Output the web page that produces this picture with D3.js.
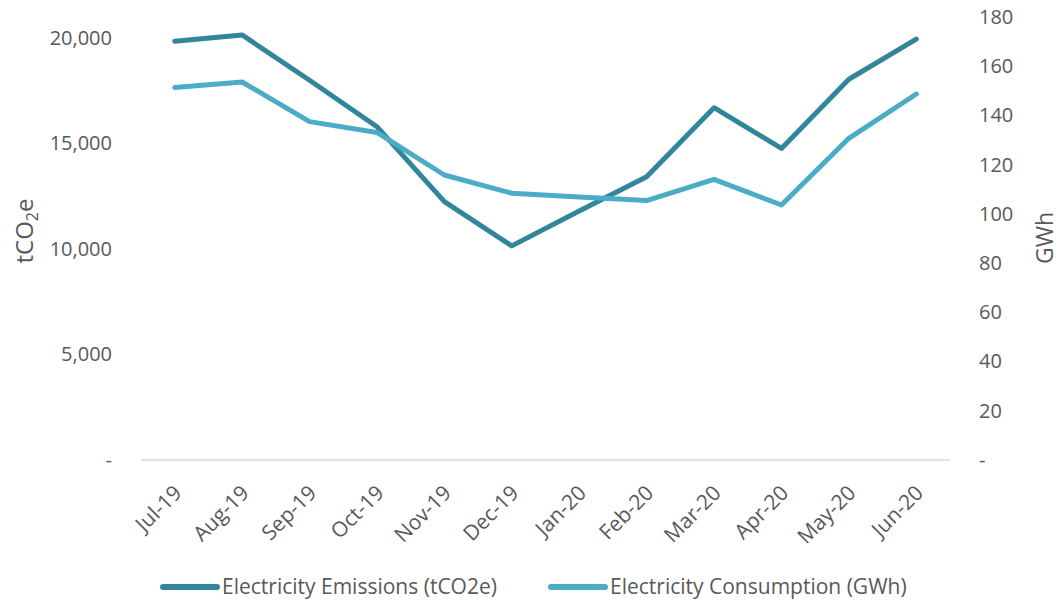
<!DOCTYPE html>
<html>
<head>
<meta charset="utf-8">
<script src="https://cdn.jsdelivr.net/npm/d3@7"></script>
<style>
  html, body { margin: 0; padding: 0; background: #fff; }
  svg { display: block; font-family: "Open Sans", sans-serif; }
</style>
</head>
<body>
<svg id="chart" width="1062" height="602"></svg>
<script>
// Monthly electricity data, FY 2019-20
const months = ["Jul-19", "Aug-19", "Sep-19", "Oct-19", "Nov-19", "Dec-19",
                "Jan-20", "Feb-20", "Mar-20", "Apr-20", "May-20", "Jun-20"];
const emissions = [19850, 20150, 18000, 15800, 12250, 10150,
                   11800, 13430, 16700, 14770, 18050, 19950];   // tCO2e
const consumption = [151.4, 153.6, 137.5, 133.1, 115.8, 108.4,
                     106.9, 105.4, 114.0, 103.6, 130.7, 148.7]; // GWh
const leftTicks = [0, 5000, 10000, 15000, 20000];
const rightTicks = [0, 20, 40, 60, 80, 100, 120, 140, 160, 180];

const darkTeal = "#31869b";
const lightTeal = "#4bacc6";
const textColor = "#595959";

const svg = d3.select("#chart");
const plot = { left: 141, right: 950, top: 17, bottom: 460 };

const x = d3.scalePoint().domain(months).range([plot.left, plot.right]).padding(0.5);
const yL = d3.scaleLinear().domain([0, 21000]).range([plot.bottom, plot.top]);
const yR = d3.scaleLinear().domain([0, 180]).range([plot.bottom, plot.top]);

const fmtL = v => v === 0 ? "-" : d3.format(",")(v);
const fmtR = v => v === 0 ? "-" : String(v);

// Left axis
const gL = svg.append("g").attr("transform", `translate(112,0)`)
  .call(d3.axisLeft(yL).tickValues(leftTicks).tickFormat(fmtL).tickSize(0).tickPadding(0));
gL.select(".domain").remove();
gL.selectAll("text").attr("fill", textColor).style("font-size", "20px")
  .attr("font-family", "Open Sans");

// Right axis
const gR = svg.append("g").attr("transform", `translate(979,0)`)
  .call(d3.axisRight(yR).tickValues(rightTicks).tickFormat(fmtR).tickSize(0).tickPadding(0));
gR.select(".domain").remove();
gR.selectAll("text").attr("fill", textColor).style("font-size", "20px")
  .attr("font-family", "Open Sans");

// Category axis
svg.append("line")
  .attr("x1", plot.left).attr("x2", plot.right)
  .attr("y1", plot.bottom).attr("y2", plot.bottom)
  .attr("stroke", "#d9d9d9").attr("stroke-width", 1.5);

svg.append("g").selectAll("text").data(months).join("text")
  .attr("transform", d => `translate(${x(d) + 3},${plot.bottom + 29}) rotate(-45)`)
  .attr("text-anchor", "end")
  .attr("dy", "0.35em")
  .attr("fill", textColor)
  .style("font-size", "21px")
  .text(d => d);

// Axis titles
const tL = svg.append("text")
  .attr("transform", `translate(33,231) rotate(-90)`)
  .attr("text-anchor", "middle")
  .attr("fill", textColor)
  .style("font-size", "24px");
tL.append("tspan").text("tCO");
tL.append("tspan").attr("dy", 5).style("font-size", "16px").text("2");
tL.append("tspan").attr("dy", -5).text("e");

svg.append("text")
  .attr("transform", `translate(1053,238) rotate(-90)`)
  .attr("text-anchor", "middle")
  .attr("fill", textColor)
  .style("font-size", "23px")
  .text("GWh");

// Lines
const lineL = d3.line().x((d, i) => x(months[i])).y(d => yL(d));
const lineR = d3.line().x((d, i) => x(months[i])).y(d => yR(d));

svg.append("path").datum(emissions)
  .attr("d", lineL).attr("fill", "none")
  .attr("stroke", darkTeal).attr("stroke-width", 5)
  .attr("stroke-linejoin", "round").attr("stroke-linecap", "round");

svg.append("path").datum(consumption)
  .attr("d", lineR).attr("fill", "none")
  .attr("stroke", lightTeal).attr("stroke-width", 5)
  .attr("stroke-linejoin", "round").attr("stroke-linecap", "round");

// Legend
const legend = [
  { label: "Electricity Emissions (tCO2e)", color: darkTeal, x: 163 },
  { label: "Electricity Consumption (GWh)", color: lightTeal, x: 551 }
];
const lg = svg.append("g").selectAll("g").data(legend).join("g")
  .attr("transform", d => `translate(${d.x},587)`);
lg.append("line").attr("x1", 0).attr("x2", 54).attr("y1", 0).attr("y2", 0)
  .attr("stroke", d => d.color).attr("stroke-width", 6).attr("stroke-linecap", "round");
lg.append("text").attr("x", 59).attr("dy", "0.35em")
  .attr("fill", textColor).style("font-size", "21px")
  .text(d => d.label);
</script>
</body>
</html>
